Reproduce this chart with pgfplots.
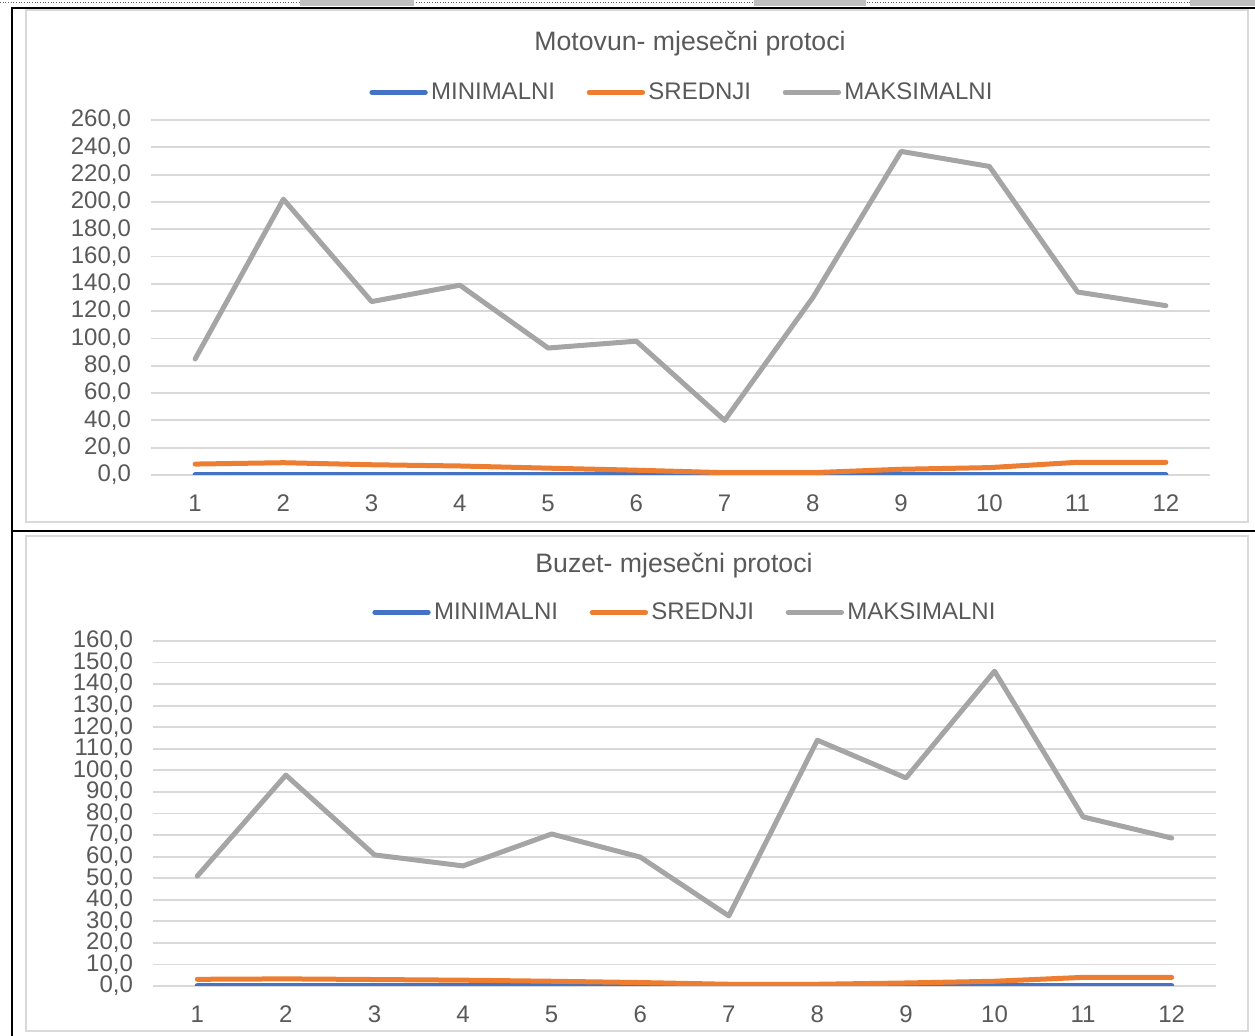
\documentclass[border=0pt]{standalone}
\usepackage{pgfplots}
\pgfplotsset{compat=1.18}
\usepackage{fontspec}
\setmainfont{Liberation Sans}

\definecolor{cmin}{HTML}{4472C4}
\definecolor{csr}{HTML}{ED7D31}
\definecolor{cmax}{HTML}{A5A5A5}
\definecolor{txt}{HTML}{595959}
\definecolor{gridc}{HTML}{D9D9D9}

\pgfplotsset{
  flowpanel/.style={
    scale only axis,
    xmin=0.5, xmax=12.5, ymin=0,
    xtick={1,...,12},
    axis line style={draw=none},
    major tick length=0pt,
    ymajorgrids,
    grid style={gridc, line width=1.1pt},
    tick label style={font=\fontsize{14.4}{16}\selectfont, text=txt},
    /pgf/number format/assume math mode=true,
    yticklabel style={/pgf/number format/.cd, fixed, fixed zerofill, precision=1, use comma},
    xticklabel style={/pgf/number format/.cd, fixed, precision=0},
    yticklabel shift=8.5pt,
    xticklabel shift=8.5pt,
    every axis plot/.append style={line width=3pt, line join=round, line cap=round, no markers},
    legend columns=3,
    legend style={draw=none, fill=none, font=\fontsize{14.4}{16}\selectfont, text=txt,
      /tikz/every even column/.append style={column sep=17pt},
      nodes={inner sep=2pt}},
    legend image code/.code={\draw[#1] (0pt,0pt) -- (32pt,0pt);},
  }
}

\begin{document}
\begin{tikzpicture}
\begin{scope}[x=0.6pt, y=0.6pt]
\useasboundingbox (0,0) rectangle (1255,1036);

% page and table rules around the two charts
\draw[black!60, densely dotted, line width=0.6pt] (0,1033) -- (1255,1033);
\fill[black!25] (300,1030) rectangle (414,1036);
\fill[black!25] (754,1030) rectangle (866,1036);
\fill[black!25] (1190,1030) rectangle (1255,1036);
\draw[black, line width=1.3pt] (12,0) -- (12,1028) -- (1255,1028);
\draw[black, line width=1.5pt] (12,505) -- (1255,505);

% chart frames
\draw[gridc, line width=1.1pt] (26,514) rectangle (1248,1026);
\draw[gridc, line width=1.1pt] (26,5) rectangle (1248,500);

% titles
\node[text=txt, font=\fontsize{16}{18}\selectfont] at (690,992) {Motovun- mjesečni protoci};
\node[text=txt, font=\fontsize{16}{18}\selectfont] at (674,470) {Buzet- mjesečni protoci};
\end{scope}

% Motovun
\begin{axis}[flowpanel,
  at={(90.6pt,336.6pt)}, anchor=south west,
  width=635.4pt, height=213pt,
  ymax=260, ytick={0,20,...,260},
  legend style={at={(0.502,1.078)}, anchor=center}]
\addplot[cmin] coordinates {(1,0.3) (2,0.3) (3,0.3) (4,0.3) (5,0.3) (6,0.3) (7,0.2) (8,0.2) (9,0.3) (10,0.3) (11,0.3) (12,0.3)};
\addplot[csr] coordinates {(1,8.0) (2,9.0) (3,7.5) (4,6.6) (5,5.0) (6,3.5) (7,1.7) (8,1.7) (9,4.2) (10,5.4) (11,9.3) (12,9.3)};
\addplot[cmax] coordinates {(1,85) (2,202) (3,127) (4,139) (5,93) (6,98) (7,40) (8,130) (9,237) (10,226) (11,134) (12,124)};
\legend{MINIMALNI, SREDNJI, MAKSIMALNI}
\end{axis}

% Buzet
\begin{axis}[flowpanel,
  at={(91.8pt,30pt)}, anchor=south west,
  width=637.8pt, height=207pt,
  ymax=160, ytick={0,10,...,160},
  legend style={at={(0.501,1.083)}, anchor=center}]
\addplot[cmin] coordinates {(1,0.2) (2,0.2) (3,0.2) (4,0.2) (5,0.2) (6,0.2) (7,0.1) (8,0.1) (9,0.2) (10,0.2) (11,0.2) (12,0.2)};
\addplot[csr] coordinates {(1,3.1) (2,3.3) (3,3.0) (4,2.7) (5,2.2) (6,1.6) (7,0.8) (8,0.8) (9,1.4) (10,2.2) (11,4.0) (12,4.0)};
\addplot[cmax] coordinates {(1,51) (2,97.8) (3,60.8) (4,55.7) (5,70.5) (6,59.8) (7,32.5) (8,114) (9,96.5) (10,146) (11,78.4) (12,68.6)};
\legend{MINIMALNI, SREDNJI, MAKSIMALNI}
\end{axis}
\end{tikzpicture}
\end{document}
